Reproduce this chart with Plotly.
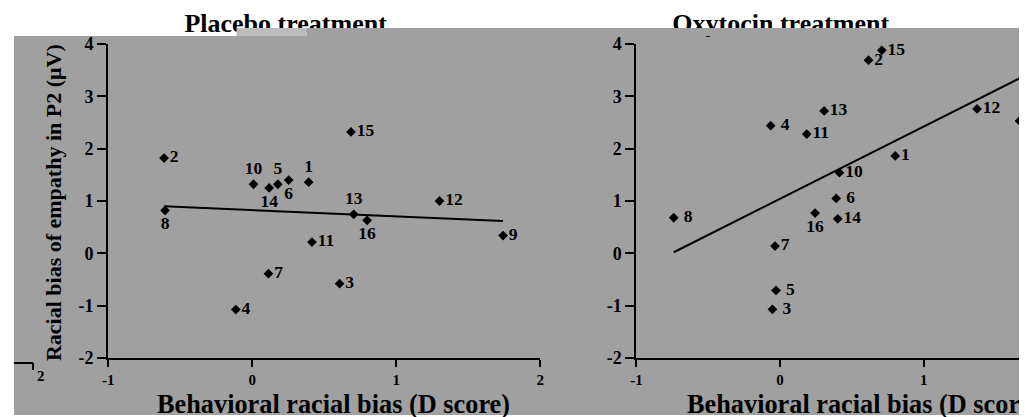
import numpy as np
import plotly.graph_objects as go

# ---------------- data ----------------
subjects = [str(i) for i in range(1, 17)]

placebo_x = [0.392, -0.612, 0.607, -0.114, 0.178, 0.253, 0.113, -0.605,
             1.742, 0.009, 0.415, 1.301, 0.705, 0.118, 0.686, 0.798]
placebo_y = [1.36, 1.82, -0.58, -1.075, 1.32, 1.40, -0.39, 0.82,
             0.34, 1.32, 0.215, 1.00, 0.745, 1.25, 2.32, 0.63]

oxytocin_x = [0.802, 0.616, -0.053, -0.065, -0.028, 0.391, -0.035, -0.740,
              1.667, 0.414, 0.186, 1.372, 0.307, 0.402, 0.709, 0.244]
oxytocin_y = [1.86, 3.69, -1.07, 2.44, -0.71, 1.05, 0.14, 0.68,
              2.53, 1.54, 2.28, 2.76, 2.72, 0.66, 3.88, 0.77]

x_ticks = [-1, 0, 1, 2]
x_tick_labels = ["-1", "0", "1", "2"]
y_ticks = [-2, -1, 0, 1, 2, 3, 4]
y_tick_labels = ["-2", "-1", "0", "1", "2", "3", "4"]
panel_titles = ["Placebo treatment", "Oxytocin treatment"]
x_title = "Behavioral racial bias (D score)"
y_title = "Racial bias of empathy in P2 (\u03bcV)"
stray_tick_label = "2"

# ---------------- styles ----------------
W, H = 1027, 417
FONT = "Liberation Serif"
GRAY = "#a0a0a0"

# mapping from target-picture pixels to paper fractions
FX0, FXW = 16.0, 1014.7
FY0, FYH = 17.0, 397.0


def px(v):
    return (v - FX0) / FXW


def py(v):
    return 1 - (v - FY0) / FYH


placebo_pos = ["top center", "middle right", "middle right", "middle right",
               "top center", "bottom center", "middle right", "bottom center",
               "middle right", "top center", "middle right", "middle right",
               "top center", "bottom center", "middle right", "bottom center"]
oxytocin_pos = ["middle right"] * 15 + ["bottom center"]
oxy_gap = {"3", "4", "5", "8", "6"}
oxytocin_text = [("\u00a0" + s if s in oxy_gap else s) for s in subjects]

fig = go.Figure()

label_font = dict(family=FONT, size=17.5, color="black", weight="bold")


def add_panel(xs, ys, texts, pos, xa, ya):
    fig.add_trace(go.Scatter(
        x=xs, y=ys, mode="markers+text", text=texts, textposition=pos,
        textfont=label_font, cliponaxis=False,
        marker=dict(symbol="diamond", size=7.5, color="black"),
        xaxis=xa, yaxis=ya, showlegend=False))
    slope, icpt = np.polyfit(np.array(xs), np.array(ys), 1)
    lx = np.array([min(xs), max(xs)])
    fig.add_trace(go.Scatter(
        x=lx, y=slope * lx + icpt, mode="lines",
        line=dict(color="black", width=2),
        xaxis=xa, yaxis=ya, showlegend=False))


add_panel(placebo_x, placebo_y, subjects, placebo_pos, "x", "y")
add_panel(oxytocin_x, oxytocin_y, oxytocin_text, oxytocin_pos, "x2", "y2")

# panel titles as text on a paper-sized overlay so the gray band can cut them
fig.add_trace(go.Scatter(
    x=[px(287), px(781)], y=[py(24), py(24)], mode="text", text=panel_titles,
    textposition="middle center", cliponaxis=False,
    textfont=dict(family=FONT, size=26, color="black", weight="bold"),
    xaxis="x3", yaxis="y3", showlegend=False, hoverinfo="skip"))

ytick_font = dict(family=FONT, size=18, color="black", weight="bold")
xtick_font = dict(family=FONT, size=15, color="black", weight="bold")
axis_common = dict(showline=True, linecolor="black", linewidth=2,
                   ticks="outside", tickwidth=2, tickcolor="black",
                   showgrid=False, zeroline=False)
bx = ["<b>%s</b>" % t for t in x_tick_labels]
by = ["<b>%s</b>" % t for t in y_tick_labels]

ydom = [py(357), py(43)]
fig.update_layout(
    width=W, height=H,
    margin=dict(l=0, r=0, t=0, b=0),
    paper_bgcolor="white",
    plot_bgcolor="rgba(0,0,0,0)",
    xaxis=dict(domain=[px(110), px(541)], range=[-1, 2], tickvals=x_ticks,
               ticktext=bx, ticklen=7, tickfont=xtick_font, anchor="y",
               **axis_common),
    yaxis=dict(domain=ydom, range=[-2, 4], tickvals=y_ticks, ticktext=by,
               ticklen=9, tickfont=ytick_font, anchor="x", **axis_common),
    xaxis2=dict(domain=[px(637), min(1.0, px(1027))],
                range=[-1, -1 + (1027 - 637) / 143.3],
                tickvals=x_ticks, ticktext=bx, ticklen=7, tickfont=xtick_font,
                anchor="y2", **axis_common),
    yaxis2=dict(domain=ydom, range=[-2, 4], tickvals=y_ticks, ticktext=by,
                ticklen=9, tickfont=ytick_font, anchor="x2", **axis_common),
    xaxis3=dict(domain=[0, 1], range=[0, 1], visible=False, anchor="y3"),
    yaxis3=dict(domain=[0, 1], range=[0, 1], visible=False, anchor="x3"),
)

shapes = [
    dict(type="rect", xref="paper", yref="paper", x0=max(0.0, px(8)), x1=1,
         y0=0, y1=py(35), fillcolor=GRAY, line=dict(width=0), layer="below"),
    dict(type="rect", xref="paper", yref="paper", x0=px(308), x1=1,
         y0=py(35), y1=py(27), fillcolor=GRAY, line=dict(width=0),
         layer="above"),
    dict(type="rect", xref="paper", yref="paper", x0=px(238), x1=px(308),
         y0=py(35), y1=py(27), fillcolor="#bcbcbc", line=dict(width=0),
         layer="above"),
    dict(type="line", xref="paper", yref="paper", x0=max(0.0, px(8)),
         x1=px(35), y0=py(362), y1=py(362),
         line=dict(color="black", width=2)),
    dict(type="line", xref="paper", yref="paper", x0=px(35), x1=px(35),
         y0=py(362), y1=py(369), line=dict(color="black", width=2)),
]
fig.update_layout(shapes=shapes)

annotations = [
    dict(text=x_title, x=px(335), y=py(403), xref="paper", yref="paper",
         showarrow=False, xanchor="center", yanchor="middle",
         font=dict(family=FONT, size=26.3, color="black", weight="bold")),
    dict(text=x_title, x=px(864), y=py(403), xref="paper", yref="paper",
         showarrow=False, xanchor="center", yanchor="middle",
         font=dict(family=FONT, size=26.3, color="black", weight="bold")),
    dict(text=y_title, x=px(56), y=py(202), xref="paper", yref="paper",
         showarrow=False, xanchor="center", yanchor="middle", textangle=-90,
         font=dict(family=FONT, size=22, color="black", weight="bold")),
    dict(text=stray_tick_label, x=px(43), y=py(375), xref="paper",
         yref="paper", showarrow=False, xanchor="center", yanchor="middle",
         font=dict(family=FONT, size=15, color="black", weight="bold")),
]
fig.update_layout(annotations=annotations)

fig.write_html("out.html")
